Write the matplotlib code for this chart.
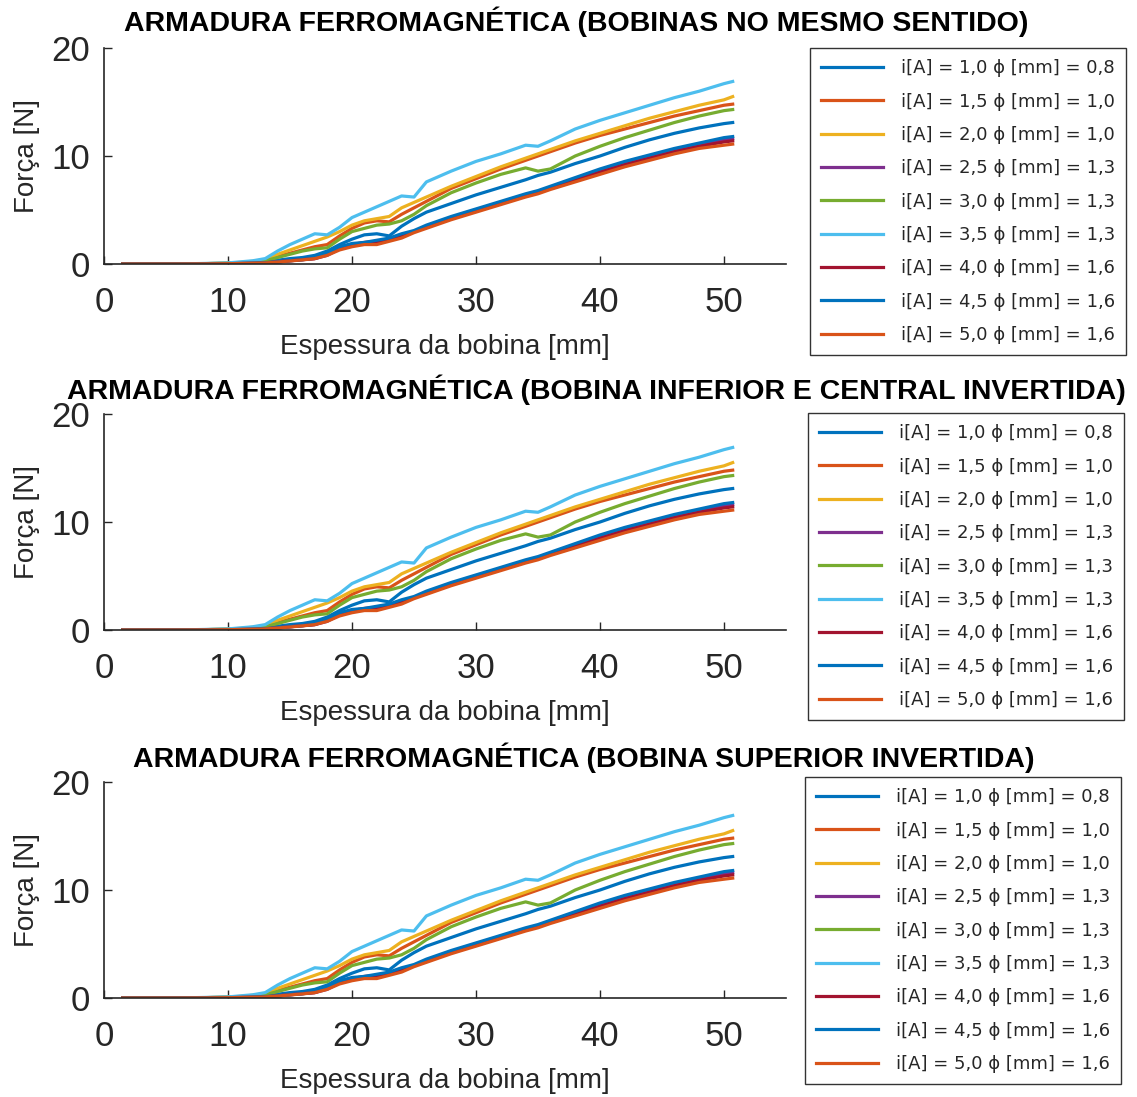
import matplotlib
matplotlib.use("Agg")
import matplotlib.pyplot as plt

plt.rcParams["font.family"] = ["Liberation Sans", "DejaVu Sans"]

# Espessura da bobina [mm]
x = [1.5, 4, 6, 8, 10, 11, 12, 13, 14, 15, 16, 17, 18, 19, 20, 21, 22, 23, 24, 25,
     26, 28, 30, 32, 34, 35, 36, 38, 40, 42, 44, 46, 48, 50, 50.7]

# Força [N] for each current / wire diameter
f_10 = [0, 0, 0, 0.02, 0.05, 0.08, 0.12, 0.2, 0.35, 0.5, 0.6, 0.8, 1.2, 1.8, 2.3, 2.7, 2.8, 2.6, 3.5, 4.2,
        4.8, 5.6, 6.4, 7.1, 7.8, 8.2, 8.5, 9.3, 10.0, 10.8, 11.5, 12.1, 12.6, 13.0, 13.1]
f_15 = [0, 0, 0, 0.03, 0.07, 0.12, 0.2, 0.35, 0.7, 1.0, 1.3, 1.6, 1.8, 2.6, 3.3, 3.8, 4.0, 3.9, 4.6, 5.2,
        5.8, 7.0, 7.9, 8.8, 9.6, 10.0, 10.4, 11.2, 11.9, 12.5, 13.1, 13.7, 14.2, 14.7, 14.8]
f_20 = [0, 0, 0, 0.03, 0.08, 0.15, 0.25, 0.4, 0.9, 1.3, 1.7, 2.1, 2.5, 3.0, 3.6, 4.0, 4.2, 4.4, 5.2, 5.7,
        6.2, 7.2, 8.1, 9.0, 9.8, 10.2, 10.6, 11.4, 12.1, 12.8, 13.5, 14.1, 14.7, 15.2, 15.5]
f_25 = [0, 0, 0, 0.01, 0.03, 0.05, 0.08, 0.12, 0.2, 0.3, 0.4, 0.5, 0.8, 1.4, 1.7, 1.9, 2.0, 2.3, 2.5, 3.0,
        3.5, 4.3, 5.0, 5.7, 6.4, 6.7, 7.1, 7.9, 8.7, 9.4, 10.0, 10.6, 11.1, 11.5, 11.6]
f_30 = [0, 0, 0, 0.03, 0.07, 0.12, 0.2, 0.3, 0.6, 0.9, 1.2, 1.4, 1.5, 2.3, 3.0, 3.3, 3.6, 3.7, 4.0, 4.6,
        5.4, 6.6, 7.5, 8.3, 8.9, 8.6, 8.8, 10.0, 10.9, 11.7, 12.4, 13.1, 13.7, 14.2, 14.3]
f_35 = [0, 0, 0, 0.05, 0.1, 0.2, 0.3, 0.5, 1.2, 1.8, 2.3, 2.8, 2.7, 3.4, 4.3, 4.8, 5.3, 5.8, 6.3, 6.2,
        7.6, 8.6, 9.5, 10.2, 11.0, 10.9, 11.4, 12.5, 13.3, 14.0, 14.7, 15.4, 16.0, 16.7, 16.9]
f_40 = [0, 0, 0, 0.01, 0.03, 0.05, 0.08, 0.12, 0.2, 0.3, 0.4, 0.5, 0.9, 1.5, 1.8, 2.0, 2.1, 2.2, 2.7, 3.0,
        3.4, 4.2, 4.9, 5.6, 6.3, 6.6, 7.0, 7.8, 8.5, 9.2, 9.8, 10.4, 10.9, 11.3, 11.4]
f_45 = [0, 0, 0, 0.01, 0.03, 0.05, 0.08, 0.12, 0.2, 0.3, 0.4, 0.55, 1.0, 1.6, 1.9, 2.0, 2.2, 2.4, 2.8, 3.1,
        3.6, 4.4, 5.1, 5.8, 6.5, 6.8, 7.2, 8.0, 8.8, 9.5, 10.1, 10.7, 11.2, 11.7, 11.8]
f_50 = [0, 0, 0, 0.01, 0.03, 0.05, 0.07, 0.1, 0.18, 0.28, 0.38, 0.5, 0.8, 1.3, 1.6, 1.8, 1.8, 2.1, 2.4, 2.9,
        3.3, 4.1, 4.8, 5.5, 6.2, 6.5, 6.9, 7.6, 8.3, 9.0, 9.6, 10.2, 10.7, 11.0, 11.1]

series = [f_10, f_15, f_20, f_25, f_30, f_35, f_40, f_45, f_50]
labels = ["i[A] = 1,0 ϕ [mm] = 0,8", "i[A] = 1,5 ϕ [mm] = 1,0", "i[A] = 2,0 ϕ [mm] = 1,0",
          "i[A] = 2,5 ϕ [mm] = 1,3", "i[A] = 3,0 ϕ [mm] = 1,3", "i[A] = 3,5 ϕ [mm] = 1,3",
          "i[A] = 4,0 ϕ [mm] = 1,6", "i[A] = 4,5 ϕ [mm] = 1,6", "i[A] = 5,0 ϕ [mm] = 1,6"]
colors = ["#0072BD", "#D95319", "#EDB120", "#7E2F8E", "#77AC30", "#4DBEEE",
          "#A2142F", "#0072BD", "#D95319"]

titles = ["ARMADURA FERROMAGNÉTICA (BOBINAS NO MESMO SENTIDO)",
          "ARMADURA FERROMAGNÉTICA (BOBINA INFERIOR E CENTRAL INVERTIDA)",
          "ARMADURA FERROMAGNÉTICA (BOBINA SUPERIOR INVERTIDA)"]

W, H = 1137, 1097
fig = plt.figure(figsize=(W / 100, H / 100), dpi=100)

# pixel layout: (axes top, axes bottom, title y, title centre x, legend left, legend top)
panels = [(48, 264, 22, 576, 810, 48), (414, 630, 390, 596, 808, 413),
          (782, 998, 758, 584, 805, 777)]
grey = "#262626"

for (top, bot, ty, tx, lx, ly), title in zip(panels, titles):
    ax = fig.add_axes([104 / W, 1 - bot / H, 682 / W, (bot - top) / H])
    for y, c, lab in zip(series, colors, labels):
        ax.plot(x, y, color=c, lw=2.3, label=lab)
    ax.set_xlim(0, 55)
    ax.set_ylim(0, 20)
    ax.set_xticks([0, 10, 20, 30, 40, 50])
    ax.set_yticks([0, 10, 20])
    for s in ["top", "right"]:
        ax.spines[s].set_visible(False)
    for s in ["left", "bottom"]:
        ax.spines[s].set_color(grey)
        ax.spines[s].set_linewidth(1.2)
    ax.tick_params(direction="in", length=6, width=1, colors=grey, labelsize=25)
    ax.tick_params(axis="x", pad=16)
    ax.tick_params(axis="y", pad=10)
    ax.set_xlabel("Espessura da bobina [mm]", fontsize=20, color=grey, labelpad=11)
    ax.set_ylabel("Força [N]", fontsize=20, color=grey, labelpad=8)
    fig.text(tx / W, 1 - ty / H, title, ha="center", va="center",
             fontsize=20.5, fontweight="bold", color="black")
    leg = ax.legend(loc="upper left", bbox_to_anchor=(lx / W, 1 - ly / H),
                    bbox_transform=fig.transFigure, borderaxespad=0,
                    prop={"family": "DejaVu Sans", "size": 13},
                    handlelength=3.4, handletextpad=1.0, labelspacing=0.85,
                    borderpad=0.62, fancybox=False, framealpha=1)
    leg.get_frame().set_edgecolor("#333333")
    leg.get_frame().set_linewidth(1.0)
    for t in leg.get_texts():
        t.set_color(grey)

fig.savefig("out.png", dpi=100)
